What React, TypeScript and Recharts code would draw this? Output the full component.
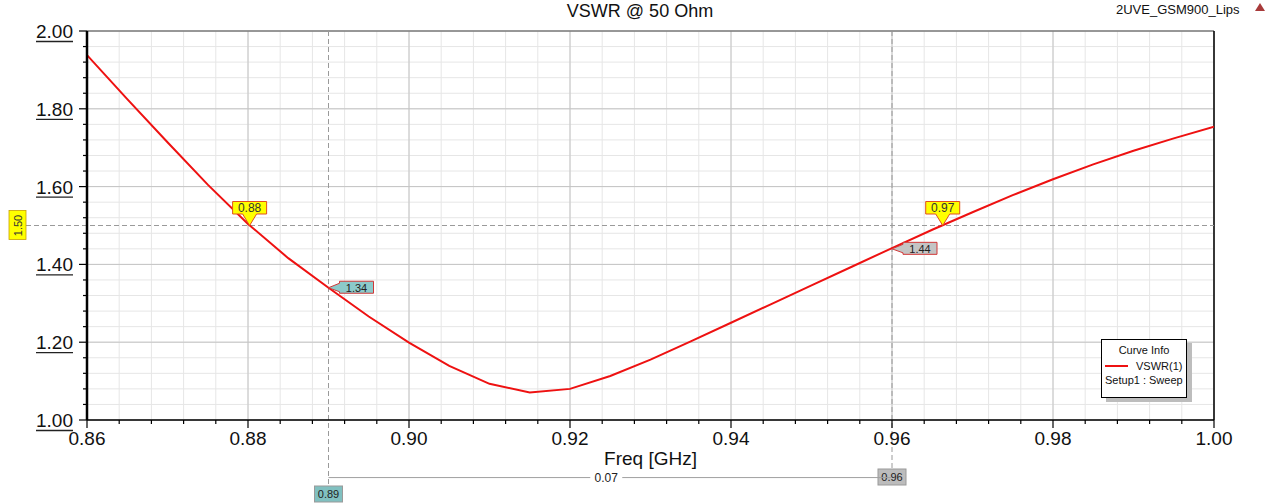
import React from 'react';
import {
  LineChart,
  Line,
  XAxis,
  YAxis,
  CartesianGrid,
  ReferenceLine,
  ReferenceDot,
  Legend,
  Label,
} from 'recharts';

// ---------- data ----------
const freqs = [
  0.86, 0.865, 0.87, 0.875, 0.88, 0.885, 0.89, 0.895, 0.9, 0.905, 0.91, 0.915, 0.92, 0.925, 0.93,
  0.935, 0.94, 0.945, 0.95, 0.955, 0.96, 0.965, 0.97, 0.975, 0.98, 0.985, 0.99, 0.995, 1.0,
];
const vswr = [
  1.938, 1.825, 1.714, 1.605, 1.504, 1.416, 1.34, 1.266, 1.199, 1.139, 1.093, 1.071, 1.08, 1.113,
  1.155, 1.202, 1.25, 1.298, 1.346, 1.394, 1.442, 1.489, 1.534, 1.578, 1.619, 1.657, 1.692, 1.724,
  1.754,
];

const xMajorTicks = [0.86, 0.88, 0.9, 0.92, 0.94, 0.96, 0.98, 1.0];
const yMajorTicks = [1.0, 1.2, 1.4, 1.6, 1.8, 2.0];
const xMinorStep = 0.004;
const yMinorStep = 0.04;

const levelValue = 1.5;
const levelLabel = '1.50';
const levelCrossFreqs = [0.8802, 0.9663];
const levelCrossLabels = ['0.88', '0.97'];

const cursorFreqs = [0.89, 0.96];
const cursorLabels = ['0.89', '0.96'];
const cursorValues = [1.34, 1.44];
const cursorValueLabels = ['1.34', '1.44'];
const deltaLabel = '0.07';

const title = 'VSWR @ 50 Ohm';
const projectName = '2UVE_GSM900_Lips';
const xAxisTitle = 'Freq [GHz]';
const legendTitle = 'Curve Info';
const seriesName = 'VSWR(1)';
const seriesSub = 'Setup1 : Sweep';

// ---------- derived ----------
const round = (v: number) => Math.round(v * 10000) / 10000;
const xMinorTicks: number[] = [];
for (let v = xMajorTicks[0]; v <= xMajorTicks[xMajorTicks.length - 1] + 1e-9; v += xMinorStep) xMinorTicks.push(round(v));
const yMinorTicks: number[] = [];
for (let v = yMajorTicks[0]; v <= yMajorTicks[yMajorTicks.length - 1] + 1e-9; v += yMinorStep) yMinorTicks.push(round(v));

const data = freqs.map((f, i) => ({ freq: f, vswr: vswr[i] }));

const isMajor = (v: number, list: number[]) => list.some((m) => Math.abs(m - v) < 1e-6);

const FONT = '"Liberation Sans", Arial, sans-serif';
const RED = '#ee1111';

// ---------- ticks ----------
const XTick = (props: any) => {
  const { x, y, payload } = props;
  const major = isMajor(payload.value, xMajorTicks);
  return (
    <g>
      <line x1={x} x2={x} y1={y} y2={y + (major ? 8 : 4)} stroke="#000" strokeWidth={1.2} />
      {major && (
        <text x={x} y={y + 25} textAnchor="middle" fontSize={19} fontFamily={FONT} fill="#111">
          {payload.value.toFixed(2)}
        </text>
      )}
    </g>
  );
};

const YTick = (props: any) => {
  const { x, y, payload } = props;
  const major = isMajor(payload.value, yMajorTicks);
  return (
    <g>
      <line x1={x} x2={x - (major ? 8 : 4)} y1={y} y2={y} stroke="#000" strokeWidth={1.2} />
      {major && (
        <g>
          <text x={x - 14} y={y + 7} textAnchor="end" fontSize={19} fontFamily={FONT} fill="#111">
            {payload.value.toFixed(2)}
          </text>
          <line x1={x - 51} x2={x - 14} y1={y + 10.5} y2={y + 10.5} stroke="#222" strokeWidth={1.3} />
        </g>
      )}
    </g>
  );
};

// ---------- marker shapes ----------
const levelMarker = (text: string) => (props: any) => {
  const { cx, cy } = props;
  const top = cy - 24;
  const bot = cy - 11.5;
  const l = cx - 17;
  const r = cx + 17;
  const d = `M${l},${top} H${r} V${bot} H${cx + 7} L${cx},${cy} L${cx - 7},${bot} H${l} Z`;
  return (
    <g>
      <path d={d} fill="#ffff00" stroke="#e0501c" strokeWidth={1} />
      <text x={cx} y={bot - 2} textAnchor="middle" fontSize={12} fontFamily={FONT} fill="#333">
        {text}
      </text>
    </g>
  );
};

const valueTag = (text: string, fill: string) => (props: any) => {
  const { cx, cy } = props;
  const l = cx + 11;
  const r = cx + 45;
  const top = cy - 6.5;
  const bot = cy + 5.5;
  const d = `M${cx},${cy} L${l},${cy - 4.5} V${top} H${r} V${bot} H${l} V${cy + 4} Z`;
  return (
    <g>
      <path d={d} fill={fill} stroke="#d03838" strokeWidth={1} />
      <text x={(l + r) / 2} y={cy + 4} textAnchor="middle" fontSize={11} fontFamily={FONT} fill="#222">
        {text}
      </text>
    </g>
  );
};

const levelLineShape = (props: any) => {
  const { x1, y1, x2 } = props;
  const left = Math.min(x1, x2);
  const right = Math.max(x1, x2);
  return (
    <g>
      <line x1={left - 61} x2={right} y1={y1} y2={y1} stroke="#9a9a9a" strokeWidth={1} strokeDasharray="5 3" />
      <rect x={left - 78} y={y1 - 15} width={17} height={29} fill="#ffff00" stroke="#c8a000" strokeWidth={0.8} />
      <text
        x={left - 69.5}
        y={y1}
        transform={`rotate(-90 ${left - 69.5} ${y1})`}
        textAnchor="middle"
        dominantBaseline="central"
        fontSize={11}
        fontFamily={FONT}
        fill="#333"
      >
        {levelLabel}
      </text>
    </g>
  );
};

const cursorShape = (text: string, fill: string, ext: number, boxOffset: number) => (props: any) => {
  const { x1, y1, y2 } = props;
  const top = Math.min(y1, y2);
  const bottom = Math.max(y1, y2) + ext;
  return (
    <g>
      <line x1={x1} x2={x1} y1={top} y2={bottom} stroke="#9a9a9a" strokeWidth={1} strokeDasharray="5 3" />
      <rect x={x1 - 14} y={bottom + boxOffset} width={28} height={16} fill={fill} stroke="#9a9a9a" strokeWidth={1} />
      <text x={x1} y={bottom + boxOffset + 12} textAnchor="middle" fontSize={11} fontFamily={FONT} fill="#222">
        {text}
      </text>
    </g>
  );
};

const deltaShape = (props: any) => {
  const { x1, x2, y1 } = props;
  const left = Math.min(x1, x2);
  const right = Math.max(x1, x2);
  const mid = (left + right) / 2 - 4;
  return (
    <g>
      <line x1={left} x2={right} y1={y1} y2={y1} stroke="#a0a0a0" strokeWidth={1} />
      <rect x={mid - 16} y={y1 - 7} width={32} height={14} fill="#fff" />
      <text x={mid} y={y1 + 4} textAnchor="middle" fontSize={12} fontFamily={FONT} fill="#222">
        {deltaLabel}
      </text>
    </g>
  );
};

const LegendBox = () => (
  <div
    style={{
      width: 86,
      height: 59,
      boxSizing: 'border-box',
      border: '1px solid #000',
      background: '#fff',
      boxShadow: '5px 4px 0 #bdbdbd',
      fontFamily: FONT,
      fontSize: 11,
      color: '#111',
      paddingTop: 3,
      lineHeight: '14px',
    }}
  >
    <div style={{ textAlign: 'center' }}>{legendTitle}</div>
    <div style={{ display: 'flex', alignItems: 'center', marginTop: 2, paddingLeft: 3 }}>
      <span style={{ display: 'inline-block', width: 23, height: 2, background: RED, marginRight: 8 }} />
      <span>{seriesName}</span>
    </div>
    <div style={{ paddingLeft: 3 }}>{seriesSub}</div>
  </div>
);

export default function App() {
  return (
    <div style={{ position: 'absolute', left: 0, top: 0, width: 1280, height: 504, background: '#fff' }}>
      <LineChart
        width={1280}
        height={504}
        data={data}
        margin={{ top: 31, right: 66, left: 17, bottom: 54 }}
      >
        <CartesianGrid verticalValues={xMinorTicks} horizontalValues={yMinorTicks} stroke="#e6e6e6" strokeWidth={1} />
        <CartesianGrid verticalValues={xMajorTicks} horizontalValues={yMajorTicks} stroke="#c4c4c4" strokeWidth={1} />
        <XAxis
          type="number"
          dataKey="freq"
          domain={[0.86, 1.0]}
          ticks={xMinorTicks}
          interval={0}
          allowDataOverflow
          height={30}
          tickSize={0}
          tickMargin={0}
          tickLine={false}
          tick={<XTick />}
          axisLine={{ stroke: '#000', strokeWidth: 1.5 }}
        >
          <Label
            content={(p: any) => {
              const vb = p.viewBox;
              return (
                <text x={vb.x + vb.width / 2} y={vb.y + 45} textAnchor="middle" fontSize={19} fontFamily={FONT} fill="#111">
                  {xAxisTitle}
                </text>
              );
            }}
          />
        </XAxis>
        <YAxis
          type="number"
          domain={[1.0, 2.0]}
          ticks={yMinorTicks}
          interval={0}
          allowDataOverflow
          width={70}
          tickSize={0}
          tickMargin={0}
          tickLine={false}
          tick={<YTick />}
          axisLine={{ stroke: '#000', strokeWidth: 2.5 }}
        />
        <ReferenceLine y={2.0} stroke="#555" strokeWidth={1.2} />
        <ReferenceLine x={1.0} stroke="#000" strokeWidth={1.5} />
        <ReferenceLine y={levelValue} shape={levelLineShape} />
        <ReferenceLine x={cursorFreqs[0]} ifOverflow="visible" shape={cursorShape(cursorLabels[0], '#80c0c0', 66, 0)} />
        <ReferenceLine x={cursorFreqs[1]} ifOverflow="visible" shape={cursorShape(cursorLabels[1], '#bcbcbc', 50, -1)} />
        <ReferenceLine
          segment={[
            { x: cursorFreqs[0], y: 0.852 },
            { x: cursorFreqs[1], y: 0.852 },
          ]}
          ifOverflow="visible"
          shape={deltaShape}
        />
        <Line
          type="linear"
          dataKey="vswr"
          stroke={RED}
          strokeWidth={2}
          dot={false}
          activeDot={false}
          isAnimationActive={false}
        />
        <ReferenceDot x={cursorFreqs[0]} y={cursorValues[0]} shape={valueTag(cursorValueLabels[0], '#8ccaca')} />
        <ReferenceDot x={cursorFreqs[1]} y={cursorValues[1]} shape={valueTag(cursorValueLabels[1], '#c4c4c4')} />
        <ReferenceDot x={levelCrossFreqs[0]} y={levelValue} shape={levelMarker(levelCrossLabels[0])} />
        <ReferenceDot x={levelCrossFreqs[1]} y={levelValue} shape={levelMarker(levelCrossLabels[1])} />
        <Legend
          layout="horizontal"
          align="center"
          verticalAlign="middle"
          content={() => <LegendBox />}
          wrapperStyle={{ left: 1101, top: 339, width: 86, height: 59 }}
        />
      </LineChart>
      <svg
        width={1280}
        height={504}
        style={{ position: 'absolute', left: 0, top: 0, pointerEvents: 'none' }}
      >
        <text x={640} y={17} textAnchor="middle" fontSize={18} fontFamily={FONT} fill="#111">
          {title}
        </text>
        <text x={1116} y={14} fontSize={13} fontFamily={FONT} fill="#111">
          {projectName}
        </text>
        <polygon points="1255,11 1260,3 1265,11" fill="#a83a3a" />
      </svg>
    </div>
  );
}
